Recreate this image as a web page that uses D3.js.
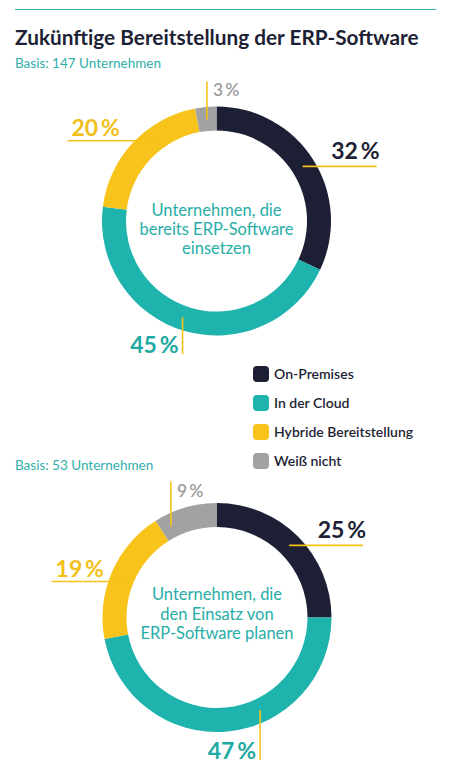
<!DOCTYPE html>
<html><head><meta charset="utf-8">
<script src="https://cdn.jsdelivr.net/npm/d3@7"></script>
<style>
html,body{margin:0;padding:0;background:#fff;}
svg{display:block;font-family:Lato,"Open Sans",sans-serif;}
</style></head>
<body>
<svg id="chart" width="449" height="782"></svg>
<script>
// ---- data ----
const categories = ["On-Premises", "In der Cloud", "Hybride Bereitstellung", "Weiß nicht"];
const colors = ["#1d1f35", "#1fb3ae", "#f8c41c", "#a2a2a2"];
const labelColors = ["#1d1f35", "#1fa9a3", "#f2c01a", "#9c9c9c"];
const valuesExisting = [32, 45, 20, 3];
const valuesPlanned = [25, 47, 19, 9];
const titleText = "Zukünftige Bereitstellung der ERP-Software";
const basisExisting = "Basis: 147 Unternehmen";
const basisPlanned = "Basis: 53 Unternehmen";
const centerExisting = ["Unternehmen, die", "bereits ERP-Software", "einsetzen"];
const centerPlanned = ["Unternehmen, die", "den Einsatz von", "ERP-Software planen"];

// ---- layout (annotation placement) ----
const charts = [
  { values: valuesExisting, center: centerExisting, cx: 216.5, cy: 221, textShift: 9,
    labels: [
      { dir: "right", frac: 0.5, len: 74, size: 23 },
      { dir: "down", frac: 0.52, len: 37, size: 23 },
      { dir: "left", frac: 0.62, len: 86, size: 23 },
      { dir: "up", frac: 0.5, len: 38, size: 17.5 }
    ] },
  { values: valuesPlanned, center: centerPlanned, cx: 217, cy: 617.5, textShift: -3,
    labels: [
      { dir: "right", frac: 0.5, len: 74, size: 23 },
      { dir: "down", frac: 0.384, len: 50, size: 23 },
      { dir: "left", frac: 0.46, len: 70, size: 23 },
      { dir: "up", frac: 0.17, len: 45, size: 17.5 }
    ] }
];
const outerR = 114.5, innerR = 90.5, midR = 102;
const lineColor = "#f4c21b";

const svg = d3.select("#chart");

// top rule
svg.append("line").attr("x1", 15).attr("x2", 436).attr("y1", 9.5).attr("y2", 9.5)
  .attr("stroke", "#2fb0aa").attr("stroke-width", 1.2);

svg.append("text").attr("x", 15).attr("y", 45).text(titleText)
  .attr("font-size", 20.8).attr("font-weight", 700).attr("fill", "#1d1f35");

svg.append("text").attr("x", 15).attr("y", 68).text(basisExisting)
  .attr("font-size", 13.5).attr("fill", "#2fb0aa");
svg.append("text").attr("x", 15).attr("y", 470).text(basisPlanned)
  .attr("font-size", 13.5).attr("fill", "#2fb0aa");

const pie = d3.pie().sort(null).value(d => d);
const arc = d3.arc().innerRadius(innerR).outerRadius(outerR);

charts.forEach(ch => {
  const g = svg.append("g").attr("transform", `translate(${ch.cx},${ch.cy})`);
  const arcs = pie(ch.values);
  g.selectAll("path.seg").data(arcs).join("path").attr("class", "seg")
    .attr("d", arc).attr("fill", (d, i) => colors[i]);

  // leaders + labels
  arcs.forEach((a, i) => {
    const L = ch.labels[i];
    const ang = a.startAngle + (a.endAngle - a.startAngle) * L.frac;
    const x0 = midR * Math.sin(ang), y0 = -midR * Math.cos(ang);
    let x1 = x0, y1 = y0;
    if (L.dir === "right") x1 = x0 + L.len;
    if (L.dir === "left") x1 = x0 - L.len;
    if (L.dir === "up") y1 = y0 - L.len;
    if (L.dir === "down") y1 = y0 + L.len;
    g.append("line").attr("x1", x0).attr("y1", y0).attr("x2", x1).attr("y2", y1)
      .attr("stroke", lineColor).attr("stroke-width", 1.6);
    const t = g.append("text").text(a.data + "\u2009%")
      .attr("font-size", L.size).attr("font-weight", i === 3 ? 600 : 700)
      .attr("fill", labelColors[i]);
    if (L.dir === "right") t.attr("x", x1 + 3).attr("y", y1 - 7).attr("text-anchor", "end");
    if (L.dir === "left") t.attr("x", x1 + 4).attr("y", y1 - 5).attr("text-anchor", "start");
    if (L.dir === "up") t.attr("x", x1 + 6).attr("y", y1 + 15).attr("text-anchor", "start");
    if (L.dir === "down") t.attr("x", x1 - 4).attr("y", y1 - 1).attr("text-anchor", "end");
  });

  const ct = g.append("text").attr("text-anchor", "middle")
    .attr("font-size", 16.5).attr("fill", "#27aea8");
  ch.center.forEach((s, k) => {
    ct.append("tspan").attr("x", 0).attr("y", ch.textShift + (k - 1) * 19.3 + 5).text(s);
  });
});

// legend
const legend = svg.append("g").attr("transform", "translate(253,374)");
const ly = d3.scaleBand().domain(categories).range([0, 116]).paddingInner(0);
categories.forEach((c, i) => {
  const y = ly(c);
  legend.append("rect").attr("x", 0).attr("y", y - 8).attr("width", 16).attr("height", 16)
    .attr("rx", 4).attr("fill", colors[i]);
  legend.append("text").attr("x", 21).attr("y", y + 5).text(c)
    .attr("font-size", 14).attr("font-weight", 600).attr("fill", "#1d1f35");
});
</script>
</body></html>
